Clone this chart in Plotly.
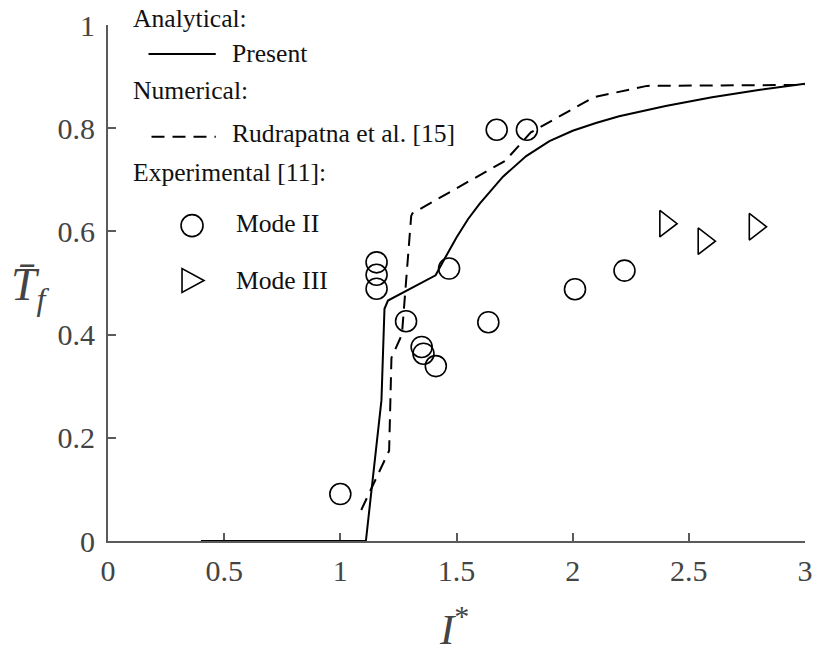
import plotly.graph_objects as go

# ---------------- data ----------------
present_x = [0.40, 1.11, 1.177, 1.19, 1.205, 1.41, 1.45, 1.50, 1.55, 1.60, 1.70, 1.80, 1.90,
             2.00, 2.10, 2.20, 2.40, 2.60, 2.80, 3.00]
present_y = [0.0, 0.0, 0.273, 0.45, 0.466, 0.515, 0.548, 0.588, 0.624, 0.654, 0.706, 0.746,
             0.775, 0.795, 0.810, 0.823, 0.843, 0.860, 0.874, 0.886]

rud_x = [1.09, 1.21, 1.22, 1.265, 1.305, 1.31, 1.71, 1.82, 2.09, 2.32, 3.00]
rud_y = [0.06, 0.175, 0.355, 0.40, 0.63, 0.635, 0.737, 0.792, 0.860, 0.882, 0.884]

mode2_x = [1.00, 1.156, 1.156, 1.156, 1.283, 1.350, 1.358, 1.411, 1.468, 1.637, 1.673, 1.803,
           2.010, 2.223]
mode2_y = [0.091, 0.540, 0.516, 0.489, 0.426, 0.376, 0.363, 0.339, 0.528, 0.424, 0.797, 0.797,
           0.488, 0.524]

mode3_x = [2.40, 2.565, 2.785]
mode3_y = [0.615, 0.581, 0.609]

x_ticks = [0, 0.5, 1, 1.5, 2, 2.5, 3]
x_ticklabels = ["0", "0.5", "1", "1.5", "2", "2.5", "3"]
y_ticks = [0, 0.2, 0.4, 0.6, 0.8, 1]
y_ticklabels = ["0", "0.2", "0.4", "0.6", "0.8", "1"]

legend_headers = ["Analytical:", "Numerical:", "Experimental [11]:"]
legend_labels = ["Present", "Rudrapatna et al. [15]", "Mode II", "Mode III"]

# ---------------- styling ----------------
FONT = "Liberation Serif"
AXIS_COLOR = "#5a5a5a"
TEXT_COLOR = "#111111"
LABEL_COLOR = "#444444"

fig = go.Figure()

fig.add_trace(go.Scatter(x=present_x, y=present_y, mode="lines",
                         line=dict(color="black", width=2), showlegend=False))
fig.add_trace(go.Scatter(x=rud_x, y=rud_y, mode="lines",
                         line=dict(color="black", width=2, dash="13px,8px"), showlegend=False))
fig.add_trace(go.Scatter(x=mode2_x, y=mode2_y, mode="markers",
                         marker=dict(symbol="circle-open", size=21, color="black",
                                     line=dict(width=1.6, color="black")),
                         showlegend=False, cliponaxis=False))
fig.add_trace(go.Scatter(x=mode3_x, y=mode3_y, mode="markers",
                         marker=dict(symbol="triangle-right-open", size=23, color="black",
                                     line=dict(width=1.6, color="black")),
                         showlegend=False, cliponaxis=False))

# plot-area geometry (pixels)
L, R, T, B = 108, 813, 24, 541
W, H = R - L, B - T


def px(x):
    return (x - L) / W


def py(y):
    return (B - y) / H


annotations = []
shapes = []

LEG_SIZE = 25.6
# legend headers
for text, ypix in zip(legend_headers, [17, 90, 172]):
    annotations.append(dict(text=text, x=px(131), y=py(ypix), xref="paper", yref="paper",
                            xanchor="left", yanchor="middle", showarrow=False,
                            font=dict(family=FONT, size=LEG_SIZE, color=TEXT_COLOR)))
# legend item labels
for text, xpix, ypix in zip(legend_labels, [231, 231, 235, 235], [53, 133, 223, 280]):
    annotations.append(dict(text=text, x=px(xpix), y=py(ypix), xref="paper", yref="paper",
                            xanchor="left", yanchor="middle", showarrow=False,
                            font=dict(family=FONT, size=LEG_SIZE, color=TEXT_COLOR)))

# legend glyphs
shapes.append(dict(type="line", xref="paper", yref="paper", x0=px(149), x1=px(217),
                   y0=py(53), y1=py(53), line=dict(color="black", width=2)))
shapes.append(dict(type="line", xref="paper", yref="paper", x0=px(152), x1=px(217),
                   y0=py(136), y1=py(136), line=dict(color="black", width=2, dash="13px,8px")))
shapes.append(dict(type="circle", xref="paper", yref="paper", xsizemode="pixel",
                   ysizemode="pixel", xanchor=px(193), yanchor=py(225),
                   x0=-11, x1=11, y0=-11, y1=11, line=dict(color="black", width=1.6)))
shapes.append(dict(type="path", xref="paper", yref="paper", xsizemode="pixel",
                   ysizemode="pixel", xanchor=px(194), yanchor=py(280),
                   path="M -11 -12 L -11 12 L 11 0 Z", line=dict(color="black", width=1.6)))

# axis titles
annotations.append(dict(text="<i>I</i><sup>*</sup>", x=px(458), y=py(597), xref="paper",
                        yref="paper", xanchor="center", yanchor="top", showarrow=False,
                        font=dict(family=FONT, size=43, color=LABEL_COLOR)))
annotations.append(dict(text="<i>T\u0304</i><sub><i>f</i></sub>", x=px(30), y=py(288),
                        xref="paper", yref="paper", xanchor="center", yanchor="middle",
                        showarrow=False, font=dict(family=FONT, size=46, color=LABEL_COLOR)))

fig.update_layout(
    width=821, height=653,
    margin=dict(l=L, r=821 - R, t=T, b=653 - B, pad=0),
    paper_bgcolor="white", plot_bgcolor="white",
    showlegend=False,
    annotations=annotations,
    shapes=shapes,
    font=dict(family=FONT),
)
fig.update_xaxes(range=[0, 3], tickvals=x_ticks, ticktext=x_ticklabels,
                 showgrid=False, zeroline=False, showline=True, linecolor=AXIS_COLOR,
                 linewidth=2, ticks="inside", ticklen=8, tickwidth=1.5, tickcolor=AXIS_COLOR,
                 tickfont=dict(family=FONT, size=30, color=LABEL_COLOR),
                 ticklabelstandoff=2, layer="below traces")
fig.update_yaxes(range=[0, 1], tickvals=y_ticks, ticktext=y_ticklabels,
                 showgrid=False, zeroline=False, showline=True, linecolor=AXIS_COLOR,
                 linewidth=2, ticks="inside", ticklen=8, tickwidth=1.5, tickcolor=AXIS_COLOR,
                 tickfont=dict(family=FONT, size=30, color=LABEL_COLOR),
                 ticklabelstandoff=5, layer="below traces")

fig.write_html("out.html")
